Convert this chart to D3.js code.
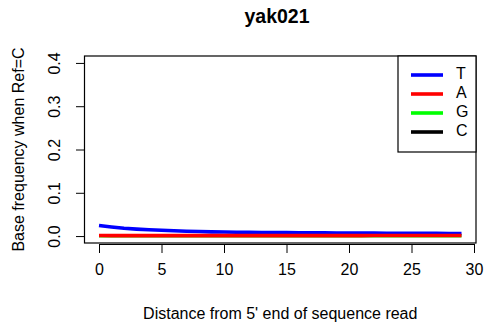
<!DOCTYPE html>
<html>
<head>
<meta charset="utf-8">
<script src="https://cdn.jsdelivr.net/npm/d3@7"></script>
<style>
  body { margin: 0; background: #fff; }
  text { font-family: "Liberation Sans", Arial, Helvetica, sans-serif; fill: #000; }
</style>
</head>
<body>
<svg id="chart" width="485" height="327"></svg>
<script>
// Position along the read (0..29)
const positions = d3.range(0, 30);

// Base frequencies at reference C sites, per read position
const freqT = [0.0245, 0.021, 0.018, 0.016, 0.0145, 0.0133, 0.0122, 0.0112, 0.0104, 0.0098,
               0.0093, 0.0089, 0.0086, 0.0083, 0.0081, 0.0079, 0.0077, 0.0075, 0.0074, 0.0072,
               0.0070, 0.0069, 0.0067, 0.0066, 0.0065, 0.0064, 0.0063, 0.0062, 0.0061, 0.0060];
const freqA = [0.0012, 0.0011, 0.0010, 0.0010, 0.0010, 0.0010, 0.0010, 0.0010, 0.0010, 0.0010,
               0.0010, 0.0010, 0.0010, 0.0010, 0.0010, 0.0010, 0.0010, 0.0010, 0.0011, 0.0011,
               0.0011, 0.0011, 0.0012, 0.0012, 0.0012, 0.0012, 0.0013, 0.0013, 0.0013, 0.0013];
const freqG = [0.0008, 0.0008, 0.0007, 0.0007, 0.0007, 0.0007, 0.0007, 0.0007, 0.0007, 0.0007,
               0.0007, 0.0007, 0.0007, 0.0007, 0.0007, 0.0007, 0.0007, 0.0007, 0.0007, 0.0007,
               0.0007, 0.0007, 0.0007, 0.0007, 0.0007, 0.0007, 0.0007, 0.0007, 0.0007, 0.0007];
const freqC = [0.974, 0.977, 0.980, 0.982, 0.984, 0.985, 0.986, 0.987, 0.988, 0.989,
               0.9895, 0.9898, 0.9901, 0.9903, 0.9905, 0.9906, 0.9908, 0.991, 0.9911, 0.9913,
               0.9915, 0.9916, 0.9917, 0.9918, 0.9919, 0.992, 0.9921, 0.9922, 0.9923, 0.9923];

const xTicks = [0, 5, 10, 15, 20, 25, 30];
const yTicks = [0.0, 0.1, 0.2, 0.3, 0.4];

const seriesNames = ["T", "A", "G", "C"];
const seriesColors = ["#0000ff", "#ff0000", "#00ff00", "#000000"];
const seriesValues = [freqT, freqA, freqG, freqC];

const svg = d3.select("#chart");
const box = { left: 84.5, right: 476, top: 56, bottom: 243 };
const fontSize = 16;

// Axis ranges padded 4% either side of the data range
const xPad = 29 * 0.04, yPad = 0.4 * 0.04;
const x = d3.scaleLinear().domain([0 - xPad, 29 + xPad]).range([box.left, box.right]);
const y = d3.scaleLinear().domain([0 - yPad, 0.4 + yPad]).range([box.bottom, box.top]);

svg.append("defs").append("clipPath").attr("id", "plotClip")
  .append("rect")
  .attr("x", box.left).attr("y", box.top)
  .attr("width", box.right - box.left).attr("height", box.bottom - box.top);

// Lines: C and G first so T and A sit on top
const line = d3.line().x((d, i) => x(positions[i])).y(d => y(d));
const drawOrder = [3, 2, 0, 1];
const plot = svg.append("g").attr("clip-path", "url(#plotClip)");
drawOrder.forEach(k => {
  plot.append("path")
    .datum(seriesValues[k])
    .attr("d", line)
    .attr("fill", "none")
    .attr("stroke", seriesColors[k])
    .attr("stroke-width", 3.6)
    .attr("stroke-linejoin", "round");
});

// Plot frame
svg.append("rect")
  .attr("x", box.left).attr("y", box.top)
  .attr("width", box.right - box.left).attr("height", box.bottom - box.top)
  .attr("fill", "none").attr("stroke", "#000").attr("stroke-width", 1.2);

// X axis
const xAxis = d3.axisBottom(x).tickValues(xTicks).tickSize(9).tickPadding(11)
  .tickFormat(d3.format("d"));
const gx = svg.append("g").attr("transform", `translate(0,${box.bottom + 1})`).call(xAxis);
gx.select(".domain").attr("d", `M${x(0)},0.5H${x(30)}`).attr("stroke", "#000");
gx.selectAll(".tick line").attr("stroke", "#000");
gx.selectAll(".tick text").attr("font-size", fontSize).attr("fill", "#000")
  .attr("font-family", "Liberation Sans, Arial, sans-serif");

// Y axis with rotated labels
const yAxis = d3.axisLeft(y).tickValues(yTicks).tickSize(8)
  .tickFormat(d3.format(".1f"));
const gy = svg.append("g").attr("transform", `translate(${box.left - 0.5},0)`).call(yAxis);
gy.select(".domain").attr("d", `M0.5,${y(0)}V${y(0.4)}`).attr("stroke", "#000");
gy.selectAll(".tick line").attr("stroke", "#000");
gy.selectAll(".tick text")
  .attr("font-size", fontSize).attr("fill", "#000")
  .attr("font-family", "Liberation Sans, Arial, sans-serif")
  .attr("x", null).attr("dy", null)
  .attr("text-anchor", "middle")
  .attr("transform", "translate(-28,0) rotate(-90)")
  .attr("dominant-baseline", "middle");

// Title and axis titles
svg.append("text")
  .attr("x", 277).attr("y", 23)
  .attr("text-anchor", "middle").attr("font-size", 19.5).attr("font-weight", "bold")
  .text("yak021");
svg.append("text")
  .attr("x", (box.left + box.right) / 2).attr("y", 319)
  .attr("text-anchor", "middle").attr("font-size", fontSize)
  .text("Distance from 5' end of sequence read");
svg.append("text")
  .attr("transform", `translate(24,${(box.top + box.bottom) / 2}) rotate(-90)`)
  .attr("text-anchor", "middle").attr("font-size", fontSize)
  .text("Base frequency when Ref=C");

// Legend
const lg = { x0: 398, y0: 56, x1: 476, y1: 152 };
svg.append("rect")
  .attr("x", lg.x0).attr("y", lg.y0)
  .attr("width", lg.x1 - lg.x0).attr("height", lg.y1 - lg.y0)
  .attr("fill", "#fff").attr("stroke", "#000").attr("stroke-width", 1.2);
const ly = d3.scalePoint().domain(seriesNames).range([75, 132]);
seriesNames.forEach((name, i) => {
  svg.append("line")
    .attr("x1", 411).attr("x2", 443)
    .attr("y1", ly(name)).attr("y2", ly(name))
    .attr("stroke", seriesColors[i]).attr("stroke-width", 3.6);
  svg.append("text")
    .attr("x", 456).attr("y", ly(name))
    .attr("dominant-baseline", "middle").attr("font-size", fontSize)
    .text(name);
});
</script>
</body>
</html>
